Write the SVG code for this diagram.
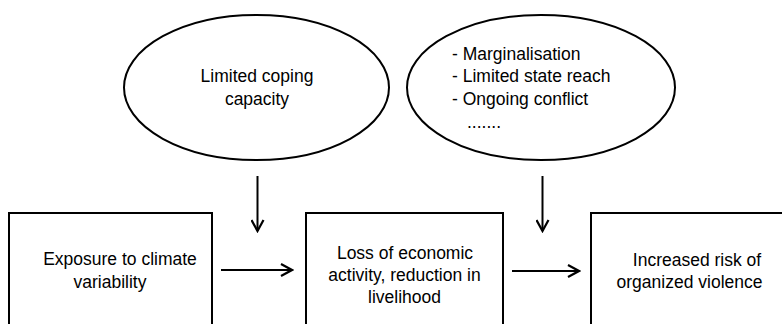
<svg xmlns="http://www.w3.org/2000/svg" width="782" height="324" viewBox="0 0 782 324">
<style>
.shape{fill:#fff;stroke:#000;stroke-width:2}
.t{font-family:"Liberation Sans",Arial,sans-serif;font-size:17.5px;fill:#000}
.c{text-anchor:middle}
.conn{stroke:#000;stroke-width:2;fill:none}
</style>
<defs>
<marker id="arr" viewBox="0 0 14 14" refX="12" refY="7" markerWidth="14" markerHeight="14" markerUnits="userSpaceOnUse" orient="auto">
<path d="M1,1 L12,7 L1,13" fill="none" stroke="#000" stroke-width="2.2"/>
</marker>
</defs>
<rect width="782" height="324" fill="#fff"/>
<g id="n-coping">
<ellipse class="shape" cx="256.5" cy="87.5" rx="132.5" ry="72.5"/>
<text class="t c" x="257" y="82">Limited coping</text>
<text class="t c" x="257" y="104.5">capacity</text>
</g>
<g id="n-context">
<ellipse class="shape" cx="541" cy="87.5" rx="134" ry="72.5"/>
<text class="t" x="452" y="59.5">- Marginalisation</text>
<text class="t" x="452" y="82">- Limited state reach</text>
<text class="t" x="452" y="104.5">- Ongoing conflict</text>
<text class="t" x="467" y="127.5">.......</text>
</g>
<g id="n-exposure">
<rect class="shape" x="9" y="213" width="203" height="130"/>
<text class="t c" x="120" y="265">Exposure to climate</text>
<text class="t c" x="110" y="288">variability</text>
</g>
<g id="n-loss">
<rect class="shape" x="306" y="213" width="197" height="130"/>
<text class="t c" x="405" y="258.5">Loss of economic</text>
<text class="t c" x="404.5" y="280.5">activity, reduction in</text>
<text class="t c" x="404.5" y="302.5">livelihood</text>
</g>
<g id="n-risk">
<rect class="shape" x="591" y="213" width="210" height="130"/>
<text class="t c" x="697" y="265.5">Increased risk of</text>
<text class="t c" x="689.5" y="288">organized violence</text>
</g>
<g id="connectors">
<line class="conn" x1="221" y1="270" x2="292" y2="270" marker-end="url(#arr)"/>
<line class="conn" x1="512" y1="271" x2="579" y2="271" marker-end="url(#arr)"/>
<line class="conn" x1="257.5" y1="176" x2="257.5" y2="231" marker-end="url(#arr)"/>
<line class="conn" x1="542.5" y1="176" x2="542.5" y2="231" marker-end="url(#arr)"/>
</g>
</svg>
